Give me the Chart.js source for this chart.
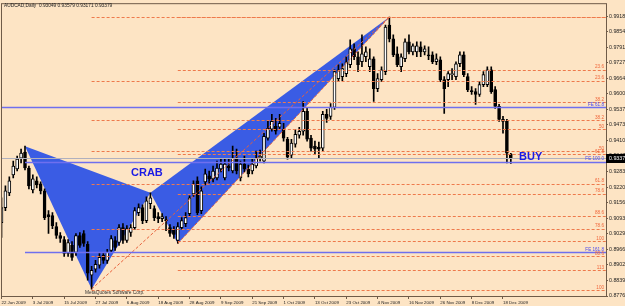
<!DOCTYPE html>
<html><head><meta charset="utf-8">
<script src="https://cdn.jsdelivr.net/npm/chart.js@4/dist/chart.umd.min.js"></script>
<style>html,body{margin:0;padding:0;background:#fde4c4;}#wrap{width:625px;height:306px;position:relative}</style>
</head><body><div id="wrap"><canvas id="c" width="625" height="306"></canvas></div>
<script>
// ---------- data ----------
const headerText = 'AUDCAD,Daily  0.93049 0.93579 0.93171 0.93379';
const dateLabels = ['22 Jun 2009','3 Jul 2009','15 Jul 2009','27 Jul 2009','6 Aug 2009','18 Aug 2009','28 Aug 2009','9 Sep 2009','21 Sep 2009','1 Oct 2009','13 Oct 2009','23 Oct 2009','4 Nov 2009','16 Nov 2009','26 Nov 2009','8 Dec 2009','18 Dec 2009'];
const dateTickIndex = [0,8,16,24,32,40,48,56,64,72,80,88,96,104,112,120,128];
const yTickValues = [0.99180,0.98546,0.97911,0.97277,0.96642,0.96008,0.95373,0.94739,0.94104,0.93470,0.92836,0.92201,0.91567,0.90932,0.90298,0.89664,0.89029,0.88395,0.87760];
const currentPrice = 0.93379;

const openP = [
0.90754,0.91362,0.91969,0.92698,0.92941,0.93387,0.93630,0.92982,0.92091,0.92455,
0.92334,0.92050,0.91078,0.91038,0.90592,0.90228,0.90066,0.89499,0.89823,0.89539,
0.90228,0.90309,0.89863,0.88608,0.88851,0.89013,0.89418,0.89215,0.89620,0.90025,
0.89944,0.90552,0.90025,0.90349,0.90552,0.91159,0.91362,0.90835,0.91524,0.91321,
0.90997,0.90916,0.90876,0.90552,0.90471,0.90025,0.90552,0.90714,0.91119,0.91929,
0.92455,0.91240,0.92415,0.92658,0.92536,0.92577,0.92941,0.92577,0.93063,0.92860,
0.93387,0.92577,0.93144,0.92941,0.92860,0.93063,0.93387,0.93265,0.94197,0.94561,
0.94683,0.94642,0.94561,0.94156,0.93508,0.93954,0.94318,0.94480,0.95290,0.94197,
0.93873,0.93832,0.93792,0.95169,0.95088,0.95452,0.96627,0.96708,0.96829,0.97194,
0.97842,0.97518,0.97315,0.97518,0.97113,0.97437,0.96222,0.96586,0.96910,0.98813,
0.98247,0.97639,0.97113,0.97437,0.98125,0.97720,0.97720,0.97923,0.97720,0.97599,
0.97599,0.97315,0.97396,0.96586,0.96586,0.96789,0.96708,0.97234,0.97599,0.96708,
0.96141,0.96100,0.95979,0.96384,0.96384,0.96991,0.96181,0.95493,0.94966,0.94885,
0.93549];
const highP = [
0.91767,0.92253,0.92617,0.93265,0.93468,0.93751,0.93873,0.93063,0.92698,0.92617,
0.92415,0.92131,0.91240,0.91159,0.90754,0.90349,0.90187,0.90066,0.89985,0.90309,
0.90349,0.90430,0.89985,0.88972,0.89215,0.89499,0.89539,0.89661,0.90228,0.90187,
0.90673,0.90714,0.90633,0.90673,0.91362,0.91524,0.91483,0.91807,0.91969,0.91443,
0.91159,0.91119,0.90997,0.90673,0.90592,0.90754,0.90957,0.91159,0.91848,0.92455,
0.92617,0.92212,0.92941,0.92860,0.93063,0.93265,0.93346,0.93346,0.93346,0.93873,
0.93751,0.93265,0.93468,0.93103,0.93346,0.93670,0.93711,0.94399,0.94885,0.95169,
0.95007,0.95169,0.94804,0.94237,0.94156,0.94561,0.94642,0.95695,0.95452,0.94318,
0.94075,0.94035,0.95290,0.95371,0.95614,0.96991,0.97194,0.97234,0.97518,0.98206,
0.98044,0.97720,0.98409,0.97923,0.97842,0.97518,0.96829,0.97113,0.98813,0.99137,
0.98409,0.97923,0.97639,0.98247,0.98409,0.98044,0.98125,0.98125,0.97963,0.97923,
0.97720,0.97639,0.97518,0.96708,0.96910,0.97032,0.97315,0.97720,0.97720,0.96829,
0.96303,0.96222,0.96505,0.96910,0.97113,0.97113,0.96303,0.95574,0.95088,0.94966,
0.93579];
const lowP = [
0.90147,0.91240,0.91848,0.92577,0.92860,0.93184,0.92901,0.92131,0.91969,0.92172,
0.91929,0.90876,0.90309,0.90511,0.90106,0.89944,0.89377,0.89377,0.89215,0.89418,
0.89742,0.89782,0.88405,0.88041,0.88729,0.88891,0.89094,0.89094,0.89539,0.89620,
0.89823,0.89904,0.89944,0.90187,0.90471,0.91038,0.90714,0.90754,0.91321,0.90835,
0.90754,0.90795,0.90430,0.90187,0.90106,0.89904,0.90471,0.90592,0.90997,0.91807,
0.91078,0.91119,0.92293,0.92374,0.92415,0.92496,0.92820,0.92496,0.92860,0.92779,
0.92739,0.92455,0.92820,0.92617,0.92739,0.92982,0.93265,0.93184,0.94116,0.94480,
0.94359,0.94561,0.94075,0.93346,0.93387,0.93832,0.94197,0.94318,0.94075,0.93670,
0.93549,0.93387,0.93670,0.94845,0.94966,0.95371,0.96505,0.96546,0.96708,0.97072,
0.97396,0.96910,0.97113,0.97315,0.96910,0.95695,0.96100,0.96505,0.96789,0.98125,
0.97518,0.97113,0.96910,0.97315,0.97639,0.97599,0.97518,0.97518,0.97599,0.97396,
0.97234,0.97194,0.96505,0.95209,0.96303,0.96586,0.96586,0.97113,0.96708,0.96100,
0.95979,0.95574,0.95898,0.96303,0.96303,0.96019,0.95412,0.94885,0.94399,0.93184,
0.93171];
const closeP = [
0.91362,0.92050,0.92455,0.93063,0.93346,0.93589,0.92982,0.92253,0.92536,0.92293,
0.92050,0.90957,0.90997,0.90633,0.90228,0.90106,0.89499,0.89944,0.89337,0.90228,
0.89823,0.89904,0.88689,0.88810,0.89053,0.89337,0.89215,0.89539,0.90106,0.89742,
0.90552,0.90025,0.90511,0.90552,0.91240,0.91362,0.90835,0.91645,0.91767,0.90957,
0.90916,0.90997,0.90835,0.90309,0.90268,0.90592,0.90835,0.90957,0.91767,0.92334,
0.91159,0.92050,0.92739,0.92536,0.92860,0.92982,0.93144,0.93144,0.92982,0.93387,
0.92860,0.93144,0.92941,0.92739,0.93144,0.93387,0.93468,0.94278,0.94602,0.94885,
0.94480,0.94804,0.94197,0.93427,0.93994,0.94359,0.94480,0.95290,0.94156,0.93792,
0.93751,0.93751,0.95169,0.95007,0.95452,0.96910,0.96991,0.97032,0.97315,0.97842,
0.97518,0.97194,0.97639,0.97720,0.97437,0.96222,0.96627,0.96991,0.98733,0.98247,
0.97599,0.97194,0.97518,0.98125,0.97720,0.97963,0.97963,0.97720,0.97842,0.97558,
0.97315,0.97437,0.96586,0.96222,0.96829,0.96829,0.97234,0.97599,0.96789,0.96181,
0.96100,0.95979,0.96384,0.96789,0.96991,0.96100,0.95493,0.94966,0.94885,0.93589,
0.93379];

// crab pattern points X, A, B, C, D
const patternIndex = [6, 23, 38, 45, 99];
const patternPrice = [0.93873, 0.88041, 0.91969, 0.89904, 0.99137];

// Fibonacci expansion lines
const feLabels = ['FE 61.8', 'FE 100.0', 'FE 161.8'];
const fePrices = [0.95453, 0.93226, 0.89542];
const feStartIndex = [-2, 6, 6];

// Fibonacci retracement C->D
const fib1Labels = ['', '23.6', '38.2', '50', '61.8', '78.6', '88.6', '100', '113'];
const fib1Prices = [0.99137, 0.96991, 0.95655, 0.94561, 0.93549, 0.91929, 0.91038, 0.89985, 0.88810];
// Fibonacci retracement A->D
const fib2Labels = ['', '23.6', '38.2', '50', '61.8', '78.6', '88.6', '100'];
const fib2Prices = [0.99137, 0.96546, 0.94927, 0.93670, 0.92334, 0.90511, 0.89377, 0.88000];

// ---------- chart ----------
const FONT = 'Liberation Sans';
Chart.defaults.font.family = FONT;
const bgColor = '#fde4c4';
const frameColor = '#6f5b48';

const idx = openP.map((_, i) => i);
const wickData = idx.map(i => ({x: i, y: [lowP[i], highP[i]]}));
const bodyData = idx.map(i => ({x: i, y: [openP[i], closeP[i]]}));
const bodyFill = idx.map(i => closeP[i] >= openP[i] ? '#ffffff' : '#000000');

const mt4 = {
  id: 'mt4',
  beforeDraw(chart) {
    const c = chart.ctx; c.save(); c.fillStyle = bgColor; c.fillRect(0, 0, chart.width, chart.height); c.restore();
  },
  beforeDatasetsDraw(chart) {
    const c = chart.ctx, ca = chart.chartArea, xs = chart.scales.x, ys = chart.scales.y;
    const P = k => [xs.getPixelForValue(patternIndex[k]), ys.getPixelForValue(patternPrice[k])];
    c.save();
    c.beginPath(); c.rect(ca.left, ca.top, ca.right - ca.left, ca.bottom - ca.top); c.clip();
    c.fillStyle = 'rgb(58,92,228)';
    [[0,1,2],[2,3,4]].forEach(t => {
      c.beginPath();
      t.forEach((k, j) => { const p = P(k); j ? c.lineTo(p[0], p[1]) : c.moveTo(p[0], p[1]); });
      c.closePath(); c.fill();
    });
    c.restore();
  },
  afterDatasetsDraw(chart) {
    const c = chart.ctx, ca = chart.chartArea, xs = chart.scales.x, ys = chart.scales.y;
    const X = v => xs.getPixelForValue(v), Y = v => ys.getPixelForValue(v);
    c.save();
    c.beginPath(); c.rect(ca.left, ca.top, ca.right - ca.left, ca.bottom - ca.top); c.clip();
    // current price line
    c.strokeStyle = '#b0b0be'; c.lineWidth = 1;
    let y = Math.round(Y(currentPrice)) + 0.5;
    c.beginPath(); c.moveTo(ca.left, y); c.lineTo(ca.right, y); c.stroke();
    // fib dashed levels
    c.strokeStyle = '#ee7a4c'; c.setLineDash([3, 2]);
    const drawLevels = (prices, start) => prices.forEach(p => {
      const yy = Math.round(Y(p)) + 0.5;
      c.beginPath(); c.moveTo(X(start), yy); c.lineTo(ca.right, yy); c.stroke();
    });
    drawLevels(fib2Prices, patternIndex[1]);
    drawLevels(fib1Prices, patternIndex[3]);
    // diagonals
    c.strokeStyle = '#e8603a';
    c.beginPath(); c.moveTo(X(patternIndex[1]), Y(patternPrice[1])); c.lineTo(X(patternIndex[4]), Y(patternPrice[4])); c.stroke();
    c.beginPath(); c.moveTo(X(patternIndex[3]), Y(patternPrice[3])); c.lineTo(X(patternIndex[4]), Y(patternPrice[4])); c.stroke();
    c.setLineDash([]);
    // FE lines
    c.strokeStyle = '#6f6fee'; c.lineWidth = 1.3;
    fePrices.forEach((p, k) => {
      const yy = Math.round(Y(p)) + 0.5;
      c.beginPath(); c.moveTo(Math.max(ca.left, X(feStartIndex[k])), yy); c.lineTo(ca.right, yy); c.stroke();
    });
    // labels
    c.font = '4.6px "' + FONT + '"'; c.textAlign = 'right'; c.textBaseline = 'bottom';
    c.fillStyle = '#f0663a';
    fib2Labels.forEach((t, k) => { if (t) c.fillText(t, ca.right - 2, Y(fib2Prices[k]) - 0.5); });
    fib1Labels.forEach((t, k) => { if (t) c.fillText(t, ca.right - 2, Y(fib1Prices[k]) - 0.5); });
    c.fillStyle = '#4a4af0';
    feLabels.forEach((t, k) => c.fillText(t, ca.right - 2, Y(fePrices[k]) - 0.5));
    // pattern text
    c.font = 'bold 11px "' + FONT + '"'; c.textAlign = 'left'; c.textBaseline = 'middle';
    c.fillStyle = '#1a1ae6';
    c.fillText('CRAB', 131, 173);
    c.fillText('BUY', 519, 157);
    c.font = '4.8px "' + FONT + '"'; c.fillStyle = '#333';
    c.fillText('MetaQuotes Software Corp.', 85, 293);
    c.restore();
  },
  afterDraw(chart) {
    const c = chart.ctx, ca = chart.chartArea, ys = chart.scales.y;
    c.save();
    c.strokeStyle = frameColor; c.lineWidth = 1;
    c.strokeRect(ca.left - 0.5, ca.top - 0.5, ca.right - ca.left + 1, ca.bottom - ca.top + 1);
    c.font = '4.8px "' + FONT + '"'; c.fillStyle = '#222'; c.textAlign = 'left'; c.textBaseline = 'middle';
    c.fillText(headerText, 4, 5.5);
    const y = ys.getPixelForValue(currentPrice);
    c.font = '5.3px "' + FONT + '"';
    c.fillStyle = '#000'; c.fillRect(ca.right, Math.round(y) - 4, chart.width - ca.right, 9);
    c.fillStyle = '#fff'; c.fillText(currentPrice.toFixed(5), ca.right + 3, Math.round(y) + 0.5);
    c.restore();
  }
};

new Chart(document.getElementById('c'), {
  type: 'bar',
  data: {
    datasets: [
      {data: wickData, backgroundColor: '#000', borderWidth: 0, barThickness: 1, grouped: false, order: 2},
      {data: bodyData, backgroundColor: bodyFill, borderColor: '#000', borderWidth: 1, borderSkipped: false,
       barThickness: 3, grouped: false, minBarLength: 1, order: 1}
    ]
  },
  options: {
    responsive: false, animation: false, devicePixelRatio: 1,
    layout: {padding: {left: 2, top: 2, right: 0, bottom: 0}},
    plugins: {legend: {display: false}, tooltip: {enabled: false}},
    scales: {
      x: {
        type: 'linear', offset: false, min: 0.13, max: 154.29,
        grid: {display: true, offset: false, drawOnChartArea: false, drawTicks: true, tickLength: 3, tickColor: frameColor},
        border: {display: false},
        afterBuildTicks: s => { s.ticks = dateTickIndex.map(v => ({value: v})); },
        afterFit: s => { s.height = 10; },
        ticks: {autoSkip: false, maxRotation: 0, minRotation: 0, align: 'start', padding: 1,
          color: '#222', font: {size: 4.4}, callback: (v, i) => dateLabels[i]}
      },
      y: {
        position: 'right', min: 0.8776, max: 0.99664, beginAtZero: false,
        grid: {display: true, drawOnChartArea: false, drawTicks: true, tickLength: 2, tickColor: frameColor},
        border: {display: false},
        afterBuildTicks: s => { s.ticks = yTickValues.map(v => ({value: v})); },
        afterFit: s => { s.width = 19; },
        ticks: {autoSkip: false, padding: 1, color: '#222', font: {size: 5.3}, callback: v => v.toFixed(5)}
      }
    }
  },
  plugins: [mt4]
});
</script></body></html>
